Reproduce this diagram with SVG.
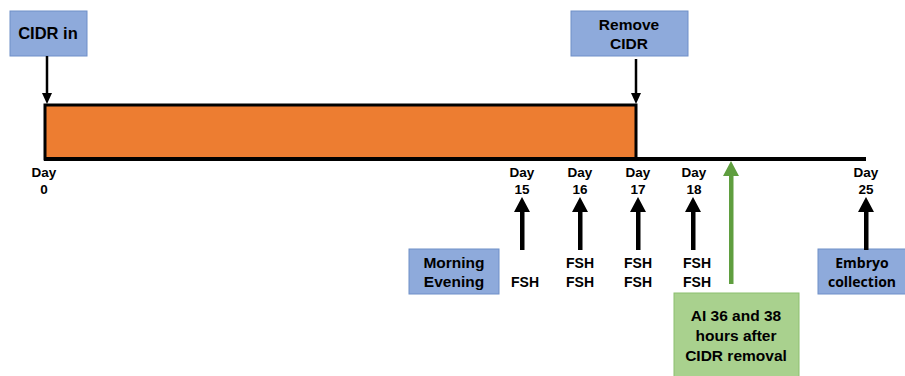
<svg xmlns="http://www.w3.org/2000/svg" width="905" height="376" viewBox="0 0 905 376">
<style>
text{font-family:"Liberation Sans",Arial,sans-serif;font-weight:bold;fill:#000;text-anchor:middle}
.day{font-size:13.5px}
.lbl{font-size:15.5px}
.fsh{font-size:14px}
.blue{fill:#8eaadb;stroke:#6f8fc8;stroke-width:1}
.green{fill:#a9d18e;stroke:#8cbf6e;stroke-width:1}
</style>
<rect width="905" height="376" fill="#fff"/>
<g id="bar"><rect x="45" y="105" width="591" height="54" fill="#ed7d31" stroke="#000" stroke-width="3"/></g>
<g id="timeline"><line x1="44" y1="159" x2="866" y2="159" stroke="#000" stroke-width="4"/></g>
<g id="cidr-in"><rect class="blue" x="10" y="11" width="77" height="45"/><text class="lbl" x="48" y="39" style="font-size:16.5px">CIDR in</text></g>
<g id="remove-cidr"><rect class="blue" x="571" y="11" width="117" height="45"/><text class="lbl" x="629" y="30">Remove</text><text class="lbl" x="629" y="49">CIDR</text></g>
<g id="days">
<text class="day" x="44" y="177">Day</text><text class="day" x="44" y="194">0</text>
<text class="day" x="522" y="177">Day</text><text class="day" x="522" y="194">15</text>
<text class="day" x="580" y="177">Day</text><text class="day" x="580" y="194">16</text>
<text class="day" x="638" y="177">Day</text><text class="day" x="638" y="194">17</text>
<text class="day" x="694" y="177">Day</text><text class="day" x="694" y="194">18</text>
<text class="day" x="866" y="177">Day</text><text class="day" x="866" y="194">25</text>
</g>
<g id="morning-evening"><rect class="blue" x="409" y="249" width="90" height="45"/><text class="lbl" x="454" y="268">Morning</text><text class="lbl" x="454" y="287">Evening</text></g>
<g id="fsh">
<text class="fsh" x="525" y="287">FSH</text>
<text class="fsh" x="580" y="268">FSH</text><text class="fsh" x="580" y="287">FSH</text>
<text class="fsh" x="638" y="268">FSH</text><text class="fsh" x="638" y="287">FSH</text>
<text class="fsh" x="697" y="268">FSH</text><text class="fsh" x="697" y="287">FSH</text>
</g>
<g id="ai"><rect class="green" x="674" y="293" width="125" height="90"/><text class="lbl" x="736" y="321">AI 36 and 38</text><text class="lbl" x="736" y="341">hours after</text><text class="lbl" x="736" y="361">CIDR removal</text></g>
<g id="embryo"><rect class="blue" x="818" y="249" width="92" height="45"/><text class="lbl" x="862" y="268" style="font-family:'Open Sans','Liberation Sans',sans-serif;font-size:14px">Embryo</text><text class="lbl" x="862" y="287" style="font-family:'Open Sans','Liberation Sans',sans-serif;font-size:14px">collection</text></g>
<g id="connectors">
<line x1="47" y1="56" x2="47" y2="94" stroke="#000" stroke-width="2.5"/><path d="M42,93 L52,93 L47,104 z" fill="#000"/>
<line x1="636" y1="59" x2="636" y2="94" stroke="#000" stroke-width="2.5"/><path d="M631,93 L641,93 L636,104 z" fill="#000"/>
<g fill="#000">
<rect x="520" y="210" width="4.5" height="40"/><path d="M514,212 L530,212 L522,197 z"/>
<rect x="578" y="210" width="4.5" height="40"/><path d="M572,212 L588,212 L580,197 z"/>
<rect x="636" y="210" width="4.5" height="40"/><path d="M630,212 L646,212 L638,197 z"/>
<rect x="691" y="210" width="4.5" height="40"/><path d="M685,212 L701,212 L693,197 z"/>
<rect x="864" y="210" width="4.5" height="40"/><path d="M858,212 L874,212 L866,197 z"/>
</g>
<g fill="#5f9e3f">
<rect x="729" y="174" width="4.5" height="110"/><path d="M723,176 L739,176 L731,161 z"/>
</g>
</g>
</svg>
